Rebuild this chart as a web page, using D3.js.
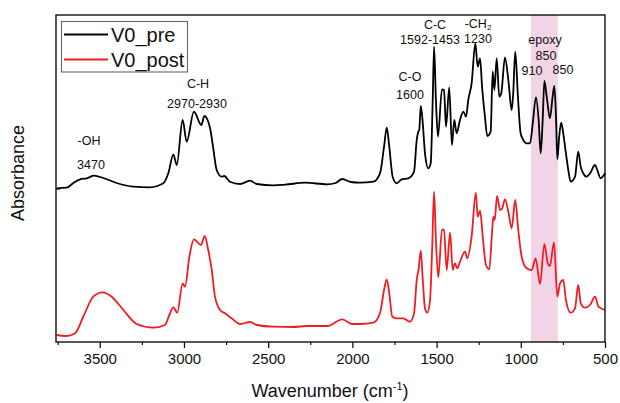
<!DOCTYPE html>
<html>
<head>
<meta charset="utf-8">
<script src="https://cdn.jsdelivr.net/npm/d3@7"></script>
<style>
  html, body { margin: 0; padding: 0; background: #fff; }
  svg { display: block; font-family: Arial, "Liberation Sans", Helvetica, sans-serif; }
</style>
</head>
<body>
<svg id="chart" width="620" height="403"></svg>
<script>
// ---- Data (wavenumber in cm-1, absorbance in arbitrary offset units) ----
const preWavenumber = [3756,3696,3657,3617,3578,3534,3479,3400,3301,3202,3123,3093,3063,3043,3008,2984,2941,2897,2879,2845,2829,2806,2776,2760,2727,2667,2608,2568,2470,2400,2280,2150,2100,2060,2010,1955,1876,1836,1812,1796,1781,1761,1737,1707,1668,1634,1618,1609,1603,1594,1582,1569,1549,1535,1523,1515,1504,1492,1468,1456,1444,1425,1409,1395,1381,1361,1341,1325,1312,1292,1270,1256,1242,1230,1213,1199,1179,1167,1157,1143,1128,1116,1094,1074,1054,1045,1033,1017,1001,985,965,945,929,910,894,882,870,860,846,827,811,801,791,783,772,760,748,732,718,704,678,659,644,629,609,589,559,546,526,500];
const preAbsorbance = [1.537,1.543,1.59,1.627,1.637,1.663,1.64,1.59,1.553,1.547,1.587,1.687,1.877,1.77,2.22,2.003,2.303,2.17,2.26,2.137,1.97,1.72,1.653,1.66,1.603,1.58,1.613,1.58,1.567,1.573,1.593,1.577,1.59,1.63,1.60,1.593,1.603,1.687,1.953,2.143,1.953,1.653,1.587,1.627,1.637,1.703,2.02,2.103,2.12,2.36,2.187,1.887,1.737,1.787,2.42,2.953,2.42,2.053,2.527,2.52,2.153,2.547,1.97,2.22,2.087,2.22,2.303,2.253,2.42,2.587,2.987,2.753,2.837,2.553,2.253,2.06,2.103,2.703,2.52,2.837,2.453,2.487,2.847,2.62,2.32,2.487,2.903,2.453,2.087,2.02,1.987,1.987,2.187,2.447,2.22,1.887,2.22,2.61,2.453,2.237,2.453,2.56,2.253,1.827,2.053,2.193,2.087,1.887,1.72,1.603,1.653,1.903,1.753,1.687,1.653,1.687,1.77,1.72,1.637,1.687];

const postWavenumber = [3756,3696,3647,3598,3539,3483,3429,3360,3281,3182,3113,3087,3063,3040,3008,2994,2968,2941,2899,2877,2856,2835,2816,2786,2757,2717,2667,2608,2568,2470,2351,2271,2150,2060,2000,1955,1876,1836,1812,1796,1781,1763,1737,1698,1658,1634,1618,1606,1594,1582,1569,1555,1539,1526,1515,1504,1490,1468,1456,1440,1420,1404,1391,1377,1361,1331,1318,1292,1267,1256,1242,1226,1207,1187,1171,1163,1155,1141,1123,1110,1094,1074,1054,1033,1015,995,965,935,912,886,860,840,827,803,783,767,748,732,704,678,659,644,619,589,559,539,500];
const postAbsorbance = [0.07,0.06,0.087,0.253,0.453,0.497,0.453,0.32,0.18,0.143,0.17,0.27,0.347,0.293,0.587,0.553,0.853,1.027,0.97,1.06,0.92,0.72,0.453,0.32,0.287,0.237,0.18,0.20,0.17,0.153,0.15,0.16,0.16,0.227,0.18,0.18,0.193,0.287,0.52,0.627,0.487,0.253,0.237,0.237,0.203,0.287,0.62,0.737,0.913,0.62,0.337,0.293,0.42,0.953,1.503,1.02,0.647,1.127,1.12,0.72,1.093,0.72,0.787,0.737,0.803,0.903,0.837,1.053,1.493,1.253,1.313,1.053,0.77,0.727,1.087,1.253,1.22,1.46,1.32,1.337,1.427,1.303,1.137,1.42,1.12,0.853,0.737,0.72,0.837,0.58,0.98,0.787,0.76,0.997,0.453,0.587,0.62,0.42,0.293,0.337,0.57,0.387,0.343,0.37,0.453,0.353,0.32];

const seriesNames = ["V0_pre", "V0_post"];
const seriesColors = ["#000000", "#ee1d23"];
const xTickValues = [3500, 3000, 2500, 2000, 1500, 1000, 500];
const xMinorTickValues = [3750, 3250, 2750, 2250, 1750, 1250, 750];
const epoxyBand = [940, 780];
const xDomain = [3760, 500];
const yDomain = [0, 3.27];

// ---- Layout ----
const svg = d3.select("#chart");
const pLeft = 56, pRight = 605, pTop = 15, pBottom = 342;

const x = d3.scaleLinear().domain(xDomain).range([pLeft, pRight]);
const y = d3.scaleLinear().domain(yDomain).range([pBottom, pTop]);

// epoxy band
svg.append("rect")
  .attr("x", x(epoxyBand[0]))
  .attr("y", pTop)
  .attr("width", x(epoxyBand[1]) - x(epoxyBand[0]))
  .attr("height", pBottom - pTop)
  .attr("fill", "#f1d4e5");

const line = d3.line()
  .x(d => x(d[0]))
  .y(d => y(d[1]))
  .curve(d3.curveMonotoneX);

const preData = preWavenumber.map((w, i) => [w, preAbsorbance[i]]);
const postData = postWavenumber.map((w, i) => [w, postAbsorbance[i]]);

svg.append("path").datum(postData)
  .attr("d", line).attr("fill", "none")
  .attr("stroke", seriesColors[1]).attr("stroke-width", 1.8)
  .attr("stroke-linejoin", "round");
svg.append("path").datum(preData)
  .attr("d", line).attr("fill", "none")
  .attr("stroke", seriesColors[0]).attr("stroke-width", 1.8)
  .attr("stroke-linejoin", "round");

// frame
svg.append("rect")
  .attr("x", pLeft).attr("y", pTop)
  .attr("width", pRight - pLeft).attr("height", pBottom - pTop)
  .attr("fill", "none").attr("stroke", "#111").attr("stroke-width", 1.4);

// x axis
const xAxis = d3.axisBottom(x).tickValues(xTickValues).tickSize(6).tickPadding(5).tickFormat(d3.format("d"));
const gx = svg.append("g").attr("transform", `translate(0,${pBottom})`).call(xAxis);
gx.select(".domain").remove();
gx.selectAll(".tick line").attr("stroke", "#111").attr("stroke-width", 1.3);
gx.selectAll(".tick text").attr("font-size", 15).attr("fill", "#111")
  .attr("font-family", "Arial, 'Liberation Sans', sans-serif");

const xMinor = d3.axisBottom(x).tickValues(xMinorTickValues).tickSize(3).tickFormat("");
const gxm = svg.append("g").attr("transform", `translate(0,${pBottom})`).call(xMinor);
gxm.select(".domain").remove();
gxm.selectAll(".tick line").attr("stroke", "#111").attr("stroke-width", 1.2);

// small y tick
svg.append("line").attr("x1", pLeft).attr("x2", pLeft + 4)
  .attr("y1", 189).attr("y2", 189).attr("stroke", "#111").attr("stroke-width", 1.2);

// axis titles
const xt = svg.append("text").attr("x", 330).attr("y", 397)
  .attr("text-anchor", "middle").attr("font-size", 18).attr("fill", "#111");
xt.append("tspan").text("Wavenumber (cm");
xt.append("tspan").text("-1").attr("font-size", 11).attr("dy", -7);
xt.append("tspan").text(")").attr("dy", 7);

svg.append("text")
  .attr("transform", "translate(24,173) rotate(-90)")
  .attr("text-anchor", "middle").attr("font-size", 18).attr("fill", "#111")
  .text("Absorbance");

// legend
svg.append("rect").attr("x", 61.5).attr("y", 21.5).attr("width", 126).attr("height", 50.5)
  .attr("fill", "#fff").attr("stroke", "#666").attr("stroke-width", 1.1);
seriesNames.forEach((name, i) => {
  const ly = 34.5 + i * 25;
  svg.append("line").attr("x1", 64).attr("x2", 108).attr("y1", ly).attr("y2", ly)
    .attr("stroke", seriesColors[i]).attr("stroke-width", 1.8);
  svg.append("text").attr("x", 111).attr("y", ly + 7.5)
    .attr("font-size", 20).attr("fill", "#111").text(name);
});

// annotations
const ann = [
  ["-OH", 89, 145], ["3470", 91, 168.5],
  ["C-H", 198, 88], ["2970-2930", 197, 108],
  ["C-O", 410, 80.5], ["1600", 410, 98.5],
  ["C-C", 435, 28.5], ["1592-1453", 430, 43.5],
  ["1230", 478, 42.5],
  ["epoxy", 545, 43.5], ["850", 546, 59.5],
  ["910", 532, 74.5], ["850", 563, 74]
];
ann.forEach(a => {
  svg.append("text").attr("x", a[1]).attr("y", a[2])
    .attr("text-anchor", "middle").attr("font-size", 12.5).attr("fill", "#111").text(a[0]);
});
const ch2 = svg.append("text").attr("x", 478).attr("y", 27.5)
  .attr("text-anchor", "middle").attr("font-size", 12.5).attr("fill", "#111");
ch2.append("tspan").text("-CH");
ch2.append("tspan").text("2").attr("font-size", 8).attr("dy", 2);
</script>
</body>
</html>
